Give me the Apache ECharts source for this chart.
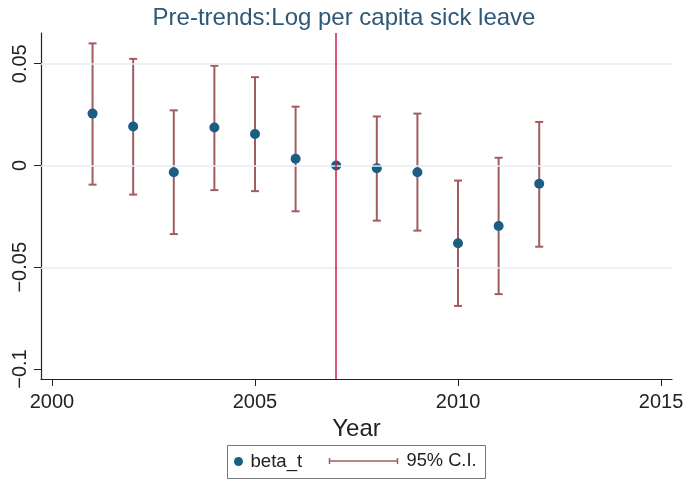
<!DOCTYPE html>
<html>
<head>
<meta charset="utf-8">
<script src="https://cdn.jsdelivr.net/npm/echarts@6/dist/echarts.min.js"></script>
<style>
  html, body { margin: 0; padding: 0; background: #fff; }
  #chart { width: 688px; height: 481px; }
</style>
</head>
<body>
<div id="chart"></div>
<script>
const years = [2001, 2002, 2003, 2004, 2005, 2006, 2007, 2008, 2009, 2010, 2011, 2012];
const beta = [0.0255, 0.0192, -0.0033, 0.0187, 0.0155, 0.0033, 0, -0.0013, -0.0033, -0.0382, -0.0297, -0.009];
const ciLow = [-0.0094, -0.0143, -0.0337, -0.0121, -0.0126, -0.0225, 0, -0.0271, -0.032, -0.069, -0.0632, -0.0399];
const ciHigh = [0.060, 0.0524, 0.0271, 0.049, 0.0434, 0.0289, 0, 0.0241, 0.0255, -0.0074, 0.0038, 0.0214];
const xTicks = [2000, 2005, 2010, 2015];
const yTicks = [-0.1, -0.05, 0, 0.05];
const gridLines = [-0.05, 0, 0.05];
const eventYear = 2007;

const FONT = "'Liberation Sans', Arial, sans-serif";
const dotColor = '#1a5f83';
const ciColor = '#a15c60';

const fmtY = v => {
  const s = String(Math.abs(v));
  return v < 0 ? '\u2212' + s : s;
};

const chart = echarts.init(document.getElementById('chart'));

const option = {
  backgroundColor: '#fff',
  animation: false,
  title: {
    text: 'Pre-trends:Log per capita sick leave',
    left: 'center',
    top: 1,
    textStyle: {color: '#2d5876', fontFamily: FONT, fontSize: 24, fontWeight: 'normal'}
  },
  grid: {left: 41, right: 16, top: 33, bottom: 102},
  xAxis: {
    type: 'value',
    min: 1999.73,
    max: 2015.27,
    name: 'Year',
    nameLocation: 'middle',
    nameGap: 31,
    nameTextStyle: {color: '#222', fontFamily: FONT, fontSize: 24},
    axisLine: {show: true, onZero: false, lineStyle: {color: '#222', width: 1.2}},
    axisTick: {show: true, customValues: xTicks, length: 7, lineStyle: {color: '#222'}},
    axisLabel: {
      customValues: xTicks,
      margin: 13,
      color: '#222',
      fontFamily: FONT,
      fontSize: 20,
      formatter: v => String(v)
    },
    splitLine: {show: false}
  },
  yAxis: {
    type: 'value',
    min: -0.1049,
    max: 0.0651,
    axisLine: {show: true, onZero: false, lineStyle: {color: '#222', width: 1.2}},
    axisTick: {show: true, customValues: yTicks, length: 7, lineStyle: {color: '#222'}},
    axisLabel: {
      customValues: yTicks,
      rotate: 90,
      margin: 11,
      color: '#222',
      fontFamily: FONT,
      fontSize: 20,
      formatter: fmtY
    },
    splitLine: {show: false}
  },
  legend: [
    {
      data: [{name: 'beta_t', icon: 'circle'}],
      left: 234,
      top: 452,
      padding: 0,
      itemWidth: 14,
      itemHeight: 9,
      textStyle: {color: '#222', fontFamily: FONT, fontSize: 18.6}
    },
    {
      data: [{
        name: '95% C.I.',
        icon: 'path://M0,0 L0,6 M0,3 L68,3 M68,0 L68,6 M72,3',
        itemStyle: {color: 'none', borderColor: ciColor, borderWidth: 1.5}
      }],
      left: 327,
      top: 452,
      padding: 0,
      itemWidth: 72,
      itemHeight: 6,
      textStyle: {color: '#222', fontFamily: FONT, fontSize: 18.3}
    }
  ],
  graphic: [{
    type: 'rect',
    shape: {x: 227.5, y: 445.5, width: 258, height: 33},
    style: {fill: 'none', stroke: '#777', lineWidth: 1},
    z: 0
  }],
  series: [
    {
      name: '95% C.I.',
      type: 'custom',
      z: 2,
      data: years.map((y, i) => [y, ciLow[i], ciHigh[i]]),
      encode: {x: 0, y: [1, 2]},
      itemStyle: {color: ciColor},
      renderItem: (params, api) => {
        const x = api.value(0);
        const top = api.coord([x, api.value(2)]);
        const bot = api.coord([x, api.value(1)]);
        const hw = 4;
        const st = {stroke: ciColor, lineWidth: 2};
        return {
          type: 'group',
          children: [
            {type: 'line', shape: {x1: top[0], y1: top[1], x2: bot[0], y2: bot[1]}, style: st},
            {type: 'line', shape: {x1: top[0] - hw, y1: top[1], x2: top[0] + hw, y2: top[1]}, style: st},
            {type: 'line', shape: {x1: bot[0] - hw, y1: bot[1], x2: bot[0] + hw, y2: bot[1]}, style: st}
          ]
        };
      },
      markLine: {
        silent: true,
        symbol: 'none',
        label: {show: false},
        lineStyle: {color: '#e6ecf2', width: 1.5, type: 'solid'},
        data: gridLines.map(v => ({yAxis: v}))
      }
    },
    {
      name: 'beta_t',
      type: 'scatter',
      z: 4,
      symbol: 'circle',
      symbolSize: 10,
      itemStyle: {color: dotColor, opacity: 1},
      data: years.map((y, i) => [y, beta[i]]),
      markLine: {
        silent: true,
        symbol: 'none',
        label: {show: false},
        lineStyle: {color: '#c8224a', width: 1.5, type: 'solid'},
        data: [{xAxis: eventYear}]
      }
    }
  ]
};

chart.setOption(option);
</script>
</body>
</html>
